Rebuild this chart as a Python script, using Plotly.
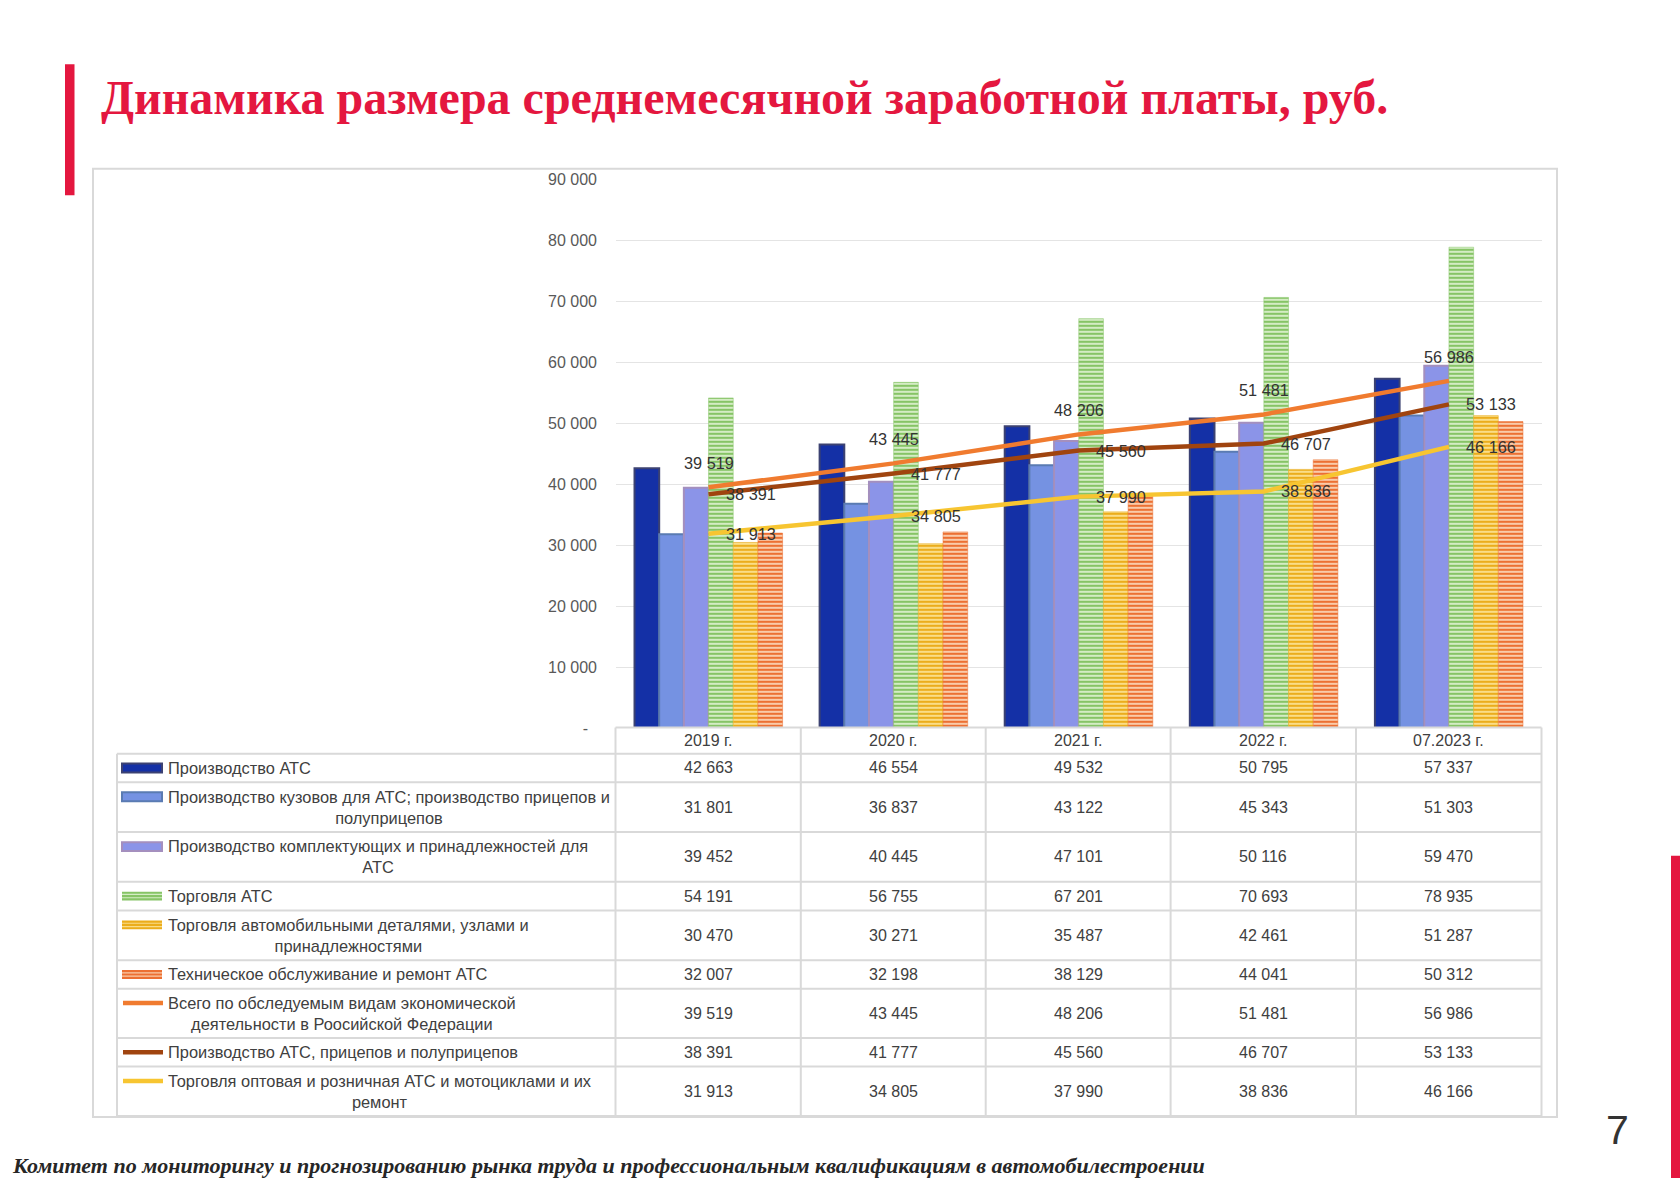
import plotly.graph_objects as go

W, H = 1680, 1187

# ---------------- data ----------------
categories = ["2019 г.", "2020 г.", "2021 г.", "2022 г.", "07.2023 г."]

prod_ats = [42663, 46554, 49532, 50795, 57337]
prod_kuzov = [31801, 36837, 43122, 45343, 51303]
prod_kompl = [39452, 40445, 47101, 50116, 59470]
torg_ats = [54191, 56755, 67201, 70693, 78935]
torg_detal = [30470, 30271, 35487, 42461, 51287]
tech_obsl = [32007, 32198, 38129, 44041, 50312]
vsego_rf = [39519, 43445, 48206, 51481, 56986]
prod_ats_pricep = [38391, 41777, 45560, 46707, 53133]
torg_opt_rozn = [31913, 34805, 37990, 38836, 46166]

series_names = [
    "Производство АТС",
    "Производство кузовов для АТС; производство прицепов и\nполуприцепов",
    "Производство комплектующих и принадлежностей для\nАТС",
    "Торговля АТС",
    "Торговля автомобильными деталями, узлами и\nпринадлежностями",
    "Техническое обслуживание и ремонт АТС",
    "Всего по обследуемым видам экономической\nдеятельности в Роосийской Федерации",
    "Производство АТС, прицепов и полуприцепов",
    "Торговля оптовая и розничная АТС и мотоциклами и их\nремонт",
]
bar_series = [prod_ats, prod_kuzov, prod_kompl, torg_ats, torg_detal, tech_obsl]
line_series = [vsego_rf, prod_ats_pricep, torg_opt_rozn]
all_series = bar_series + line_series

y_tick_vals = [0, 10000, 20000, 30000, 40000, 50000, 60000, 70000, 80000, 90000]

title_text = "Динамика размера среднемесячной заработной платы, руб."
footer_text = "Комитет по мониторингу и прогнозированию рынка труда и профессиональным квалификациям в автомобилестроении"
page_number = "7"

# ---------------- styles ----------------
bar_styles = [
    dict(kind="solid", color="#1430A6", line="#3C4272"),
    dict(kind="solid", color="#7592E2", line="#5A7BB2"),
    dict(kind="solid", color="#8B94E8", line="#A48FBE"),
    dict(kind="stripe", fg="#86C466", bg="#D4ECC4"),
    dict(kind="stripe", fg="#EBAD1C", bg="#FADD88"),
    dict(kind="stripe", fg="#EC7033", bg="#F9CBAA"),
]
line_colors = ["#F07B2F", "#A0440F", "#F7C531"]

TXT = "#404040"
SANS = "Liberation Sans, Arial, sans-serif"
SERIF = "Liberation Serif, Times New Roman, serif"
GRID = "#D9D9D9"


def fx(px):
    return px / W


def fy(py):
    return 1 - py / H


def fmt(v):
    return f"{v:,}".replace(",", " ")


# layout geometry (page pixels)
PLOT_L, PLOT_R = 616, 1541.5
PLOT_T, PLOT_B = 174.3, 730.5
col_edges = [615.5, 800.8, 985.7, 1170.6, 1356.0, 1541.5]
row_edges = [730.0, 756.5, 785.5, 836.0, 886.5, 915.5, 966.0, 995.0, 1045.0, 1074.0, 1124.0]
TABLE_L = 117.0

fig = go.Figure()

for vals, name, st in zip(bar_series, series_names, bar_styles):
    if st["kind"] == "solid":
        marker = dict(color=st["color"], line=dict(color=st["line"], width=2))
    else:
        marker = dict(
            color=st["bg"],
            line=dict(color=st["fg"], width=0.5),
            pattern=dict(shape="-", fgcolor=st["fg"], bgcolor=st["bg"],
                         size=4, solidity=0.5, fillmode="replace"),
        )
    fig.add_trace(go.Bar(x=categories, y=vals, name=name.replace("\n", " "),
                         marker=marker, showlegend=False))

for vals, name, col in zip(line_series, series_names[6:], line_colors):
    fig.add_trace(go.Scatter(x=categories, y=vals, mode="lines",
                             name=name.replace("\n", " "),
                             line=dict(color=col, width=4.5), showlegend=False))

annotations = []
shapes = []

# data labels for lines
for i, v in enumerate(vsego_rf):
    annotations.append(dict(x=i, y=v, xref="x", yref="y", text=fmt(v), showarrow=False,
                            xanchor="center", yanchor="middle", yshift=24,
                            font=dict(family=SANS, size=16.3, color="#333333")))
for series in (prod_ats_pricep, torg_opt_rozn):
    for i, v in enumerate(series):
        annotations.append(dict(x=i, y=v, xref="x", yref="y", text=fmt(v), showarrow=False,
                                xanchor="left", yanchor="middle", xshift=15,
                                font=dict(family=SANS, size=16.3, color="#333333")))

# outer chart border
shapes.append(dict(type="rect", xref="paper", yref="paper", x0=fx(93), x1=fx(1557),
                   y0=fy(1125), y1=fy(163), line=dict(color=GRID, width=2), layer="below"))

# table lines
shapes.append(dict(type="line", xref="paper", yref="paper", x0=fx(col_edges[0]), x1=fx(col_edges[-1]),
                   y0=fy(row_edges[0]), y1=fy(row_edges[0]), line=dict(color=GRID, width=2)))
for r in row_edges[1:]:
    shapes.append(dict(type="line", xref="paper", yref="paper", x0=fx(TABLE_L), x1=fx(col_edges[-1]),
                       y0=fy(r), y1=fy(r), line=dict(color=GRID, width=2)))
for c in col_edges:
    shapes.append(dict(type="line", xref="paper", yref="paper", x0=fx(c), x1=fx(c),
                       y0=fy(row_edges[0]), y1=fy(row_edges[-1]), line=dict(color=GRID, width=2)))
shapes.append(dict(type="line", xref="paper", yref="paper", x0=fx(TABLE_L), x1=fx(TABLE_L),
                   y0=fy(row_edges[1]), y1=fy(row_edges[-1]), line=dict(color=GRID, width=2)))

# header (categories)
for j, cat in enumerate(categories):
    cx = (col_edges[j] + col_edges[j + 1]) / 2
    cy = (row_edges[0] + row_edges[1]) / 2
    annotations.append(dict(x=fx(cx), y=fy(cy), xref="paper", yref="paper", text=cat,
                            showarrow=False, xanchor="center", yanchor="middle",
                            font=dict(family=SANS, size=16, color=TXT)))

# rows: legend + values
for k, (name, vals) in enumerate(zip(series_names, all_series)):
    top, bot = row_edges[k + 1], row_edges[k + 2]
    cy = (top + bot) / 2
    two_lines = "\n" in name
    sy = cy - 10.5 if two_lines else cy
    annotations.append(dict(x=fx(166), y=fy(cy), xref="paper", yref="paper",
                            text=name.replace("\n", "<br>"), showarrow=False,
                            xanchor="left", yanchor="middle", align="center",
                            font=dict(family=SANS, size=16.4, color=TXT)))
    if k < 6:
        st = bar_styles[k]
        if st["kind"] == "solid":
            shapes.append(dict(type="rect", xref="paper", yref="paper", x0=fx(122), x1=fx(162),
                               y0=fy(sy + 4.5), y1=fy(sy - 4.5), fillcolor=st["color"],
                               line=dict(color=st["line"], width=2)))
        else:
            shapes.append(dict(type="rect", xref="paper", yref="paper", x0=fx(122), x1=fx(162),
                               y0=fy(sy + 4.5), y1=fy(sy - 4.5), fillcolor=st["fg"],
                               line=dict(width=0)))
            for off in (-1.7, 1.7):
                shapes.append(dict(type="line", xref="paper", yref="paper", x0=fx(122), x1=fx(162),
                                   y0=fy(sy + off), y1=fy(sy + off),
                                   line=dict(color=st["bg"], width=1.2)))
    else:
        shapes.append(dict(type="line", xref="paper", yref="paper", x0=fx(123), x1=fx(163),
                           y0=fy(sy), y1=fy(sy), line=dict(color=line_colors[k - 6], width=4.5)))
    for j, v in enumerate(vals):
        cx = (col_edges[j] + col_edges[j + 1]) / 2
        annotations.append(dict(x=fx(cx), y=fy(cy), xref="paper", yref="paper", text=fmt(v),
                                showarrow=False, xanchor="center", yanchor="middle",
                                font=dict(family=SANS, size=16, color=TXT)))

# decorative red bars
RED = "#E4173F"
shapes.append(dict(type="rect", xref="paper", yref="paper", x0=fx(65), x1=fx(74.5),
                   y0=fy(190), y1=fy(57), fillcolor=RED, line=dict(width=0)))
shapes.append(dict(type="rect", xref="paper", yref="paper", x0=fx(1671), x1=1,
                   y0=0, y1=fy(860), fillcolor=RED, line=dict(width=0)))

# title, footer, page number
annotations.append(dict(x=fx(99), y=fy(91), xref="paper", yref="paper",
                        text="<b>" + title_text + "</b>", showarrow=False,
                        xanchor="left", yanchor="middle",
                        font=dict(family=SERIF, size=48, color=RED)))
annotations.append(dict(x=fx(10), y=fy(1174), xref="paper", yref="paper",
                        text="<b><i>" + footer_text + "</i></b>", showarrow=False,
                        xanchor="left", yanchor="middle",
                        font=dict(family=SERIF, size=22, color="#262626")))
annotations.append(dict(x=fx(1617), y=fy(1138), xref="paper", yref="paper",
                        text=page_number, showarrow=False, xanchor="center", yanchor="middle",
                        font=dict(family=SANS, size=41, color="#333333")))

tick_text = ["-\u00a0\u00a0" if v == 0 else fmt(v) for v in y_tick_vals]

fig.update_layout(
    width=W, height=H,
    margin=dict(l=0, r=0, t=0, b=0),
    paper_bgcolor="white", plot_bgcolor="white",
    barmode="group", bargap=0.2, bargroupgap=0,
    showlegend=False,
    xaxis=dict(domain=[fx(PLOT_L), fx(PLOT_R)], range=[-0.5, 4.5], showticklabels=False,
               showgrid=False, zeroline=False, showline=False, fixedrange=True),
    yaxis=dict(domain=[fy(PLOT_B), fy(PLOT_T)], range=[0, 90000], tickvals=y_tick_vals,
               ticktext=tick_text, showgrid=True, gridcolor="#E4E4E4", gridwidth=1,
               zeroline=False, showline=False, ticklabelstandoff=18,
               tickfont=dict(family=SANS, size=16, color="#595959")),
    shapes=shapes,
    annotations=annotations,
)

fig.write_html("out.html", config={"displayModeBar": False},
               post_script="document.body.style.margin='0';document.body.style.overflow='hidden';")
